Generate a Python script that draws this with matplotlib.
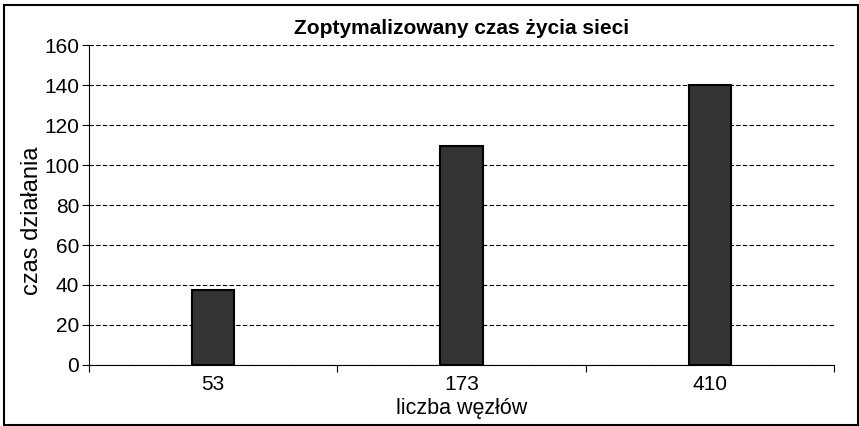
import numpy as np
import matplotlib
matplotlib.use('Agg')
import matplotlib.pyplot as plt
from matplotlib.patches import Rectangle

# Data
nodes = ['53', '173', '410']
lifetime = [37.5, 109.5, 140]
y_ticks = [0, 20, 40, 60, 80, 100, 120, 140, 160]

plt.rcParams['font.family'] = ['Liberation Sans', 'DejaVu Sans']
plt.rcParams['font.size'] = 15

fig = plt.figure(figsize=(8.59, 4.26), dpi=100)
ax = fig.add_axes([89/859, 1-365/426, (834-89)/859, (365-45)/426])

x = np.arange(len(nodes))
ax.bar(x, lifetime, width=0.17, color='#333333', edgecolor='black', linewidth=1.5, zorder=3)

ax.set_xlim(-0.5, len(nodes)-0.5)
ax.set_ylim(0, 160)
ax.set_yticks(y_ticks)
ax.yaxis.grid(True, linestyle=(0, (4, 2)), color='black', linewidth=0.8, zorder=0)

# category ticks sit on the boundaries, labels in the middle
ax.set_xticks(np.arange(len(nodes)+1) - 0.5)
ax.set_xticklabels([])
ax.set_xticks(x, minor=True)
ax.set_xticklabels(nodes, minor=True)
ax.tick_params(axis='x', which='minor', length=0, pad=7)
ax.tick_params(axis='x', which='major', length=5, direction='out', color='black')
ax.tick_params(axis='y', length=5, direction='out', pad=2)

for side in ['top', 'right']:
    ax.spines[side].set_visible(False)
ax.spines['left'].set_color('black')
ax.spines['bottom'].set_color('black')

ax.set_title('Zoptymalizowany czas życia sieci', fontweight='bold', fontsize=15, pad=8)
ax.set_ylabel('czas działania', fontsize=17)
ax.yaxis.set_label_coords(-0.062, 0.45)
ax.set_xlabel('liczba węzłów', fontsize=15.5, labelpad=3)

# outer frame around the whole chart
fig.patches.append(Rectangle((4/859, 1/426), 854/859, 420/426, transform=fig.transFigure,
                             fill=False, edgecolor='black', linewidth=1.5))

plt.savefig('out.png', dpi=100)
